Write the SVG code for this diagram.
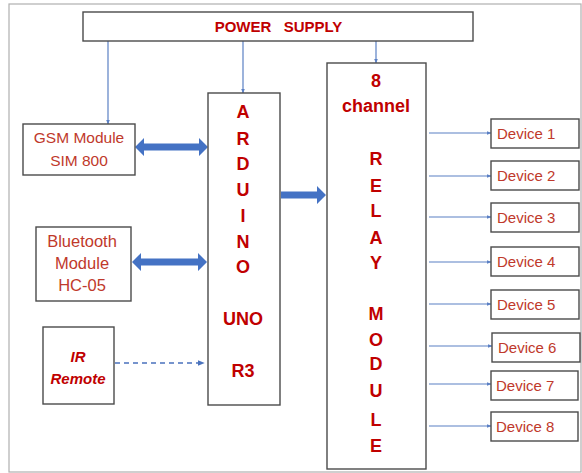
<svg xmlns="http://www.w3.org/2000/svg" width="582" height="473" viewBox="0 0 582 473">
<defs>
<style>
.box{fill:#fff;stroke:#4a4a4a;stroke-width:1.4}
.thin{stroke:#5b80c4;stroke-width:1.2;fill:none}
.thick{fill:#4472c4}
.t{font-family:"Liberation Sans",Arial,sans-serif;fill:#c0392b;text-anchor:middle}
.b{font-family:"Liberation Sans",Arial,sans-serif;font-weight:bold;fill:#c00000;text-anchor:middle;font-size:18px}
.dev{font-family:"Liberation Sans",Arial,sans-serif;fill:#c0392b;font-size:15px}
</style>
<marker id="ah" viewBox="0 0 10 10" refX="9" refY="5" markerWidth="5" markerHeight="5" orient="auto" markerUnits="userSpaceOnUse">
<path d="M0,1 L10,5 L0,9 z" fill="#5b80c4"/>
</marker>
<marker id="ah2" viewBox="0 0 10 10" refX="9" refY="5" markerWidth="7" markerHeight="7" orient="auto" markerUnits="userSpaceOnUse">
<path d="M0,1 L10,5 L0,9 z" fill="#4a72bd"/>
</marker>
</defs>
<rect x="0" y="0" width="582" height="473" fill="#fff"/>
<rect x="9" y="4" width="572" height="468" fill="none" stroke="#b0b0b0" stroke-width="1.2"/>

<g id="connectors">
<line class="thin" x1="108" y1="41" x2="108" y2="124" marker-end="url(#ah)"/>
<line class="thin" x1="243" y1="41" x2="243" y2="93" marker-end="url(#ah)"/>
<line class="thin" x1="376" y1="41" x2="376" y2="63" marker-end="url(#ah)"/>
<polygon class="thick" points="135,147 144,138 144,143.5 199,143.5 199,138 208,147 199,156 199,150.5 144,150.5 144,156"/>
<polygon class="thick" points="132,262 141,253 141,258.5 198,258.5 198,253 207,262 198,271 198,265.5 141,265.5 141,271"/>
<polygon class="thick" points="281,191.5 317,191.5 317,186 326,195 317,204 317,198.5 281,198.5"/>
<line x1="115" y1="363" x2="204" y2="363" stroke="#4a72bd" stroke-width="1.7" stroke-dasharray="5,4" marker-end="url(#ah2)"/>
<line class="thin" x1="429" y1="133" x2="491" y2="133" marker-end="url(#ah)"/>
<line class="thin" x1="429" y1="176" x2="491" y2="176" marker-end="url(#ah)"/>
<line class="thin" x1="429" y1="217" x2="491" y2="217" marker-end="url(#ah)"/>
<line class="thin" x1="429" y1="262" x2="491" y2="262" marker-end="url(#ah)"/>
<line class="thin" x1="429" y1="304" x2="491" y2="304" marker-end="url(#ah)"/>
<line class="thin" x1="429" y1="346" x2="492" y2="346" marker-end="url(#ah)"/>
<line class="thin" x1="429" y1="384" x2="491" y2="384" marker-end="url(#ah)"/>
<line class="thin" x1="429" y1="426" x2="491" y2="426" marker-end="url(#ah)"/>
</g>

<g id="power">
<rect class="box" x="83" y="12" width="390" height="29"/>
<text class="b" x="243" y="32" style="font-size:15px">POWER</text>
<text class="b" x="313" y="32" style="font-size:15px">SUPPLY</text>
</g>

<g id="gsm">
<rect class="box" x="23" y="124" width="112" height="51"/>
<text class="t" x="79" y="143" style="font-size:15.5px">GSM Module</text>
<text class="t" x="79" y="166" style="font-size:15.5px">SIM 800</text>
</g>

<g id="bluetooth">
<rect class="box" x="36" y="227" width="95" height="74"/>
<text class="t" x="82" y="247" style="font-size:16.5px">Bluetooth</text>
<text class="t" x="82" y="269" style="font-size:16.5px">Module</text>
<text class="t" x="82" y="291" style="font-size:16.5px">HC-05</text>
</g>

<g id="ir">
<rect class="box" x="43" y="327" width="71" height="77"/>
<text class="b" x="78" y="362" style="font-size:15px;font-style:italic">IR</text>
<text class="b" x="78" y="384" style="font-size:15px;font-style:italic">Remote</text>
</g>

<g id="arduino">
<rect class="box" x="208" y="93" width="72" height="312"/>
<text class="b" x="243" y="118">A</text>
<text class="b" x="243" y="145">R</text>
<text class="b" x="243" y="170">D</text>
<text class="b" x="243" y="196">U</text>
<text class="b" x="243" y="222">I</text>
<text class="b" x="243" y="248">N</text>
<text class="b" x="243" y="273">O</text>
<text class="b" x="243" y="325">UNO</text>
<text class="b" x="243" y="377">R3</text>
</g>

<g id="relay">
<rect class="box" x="327" y="63" width="99" height="406"/>
<text class="b" x="376" y="87">8</text>
<text class="b" x="376" y="112">channel</text>
<text class="b" x="376" y="165">R</text>
<text class="b" x="376" y="192">E</text>
<text class="b" x="376" y="217">L</text>
<text class="b" x="376" y="244">A</text>
<text class="b" x="376" y="269">Y</text>
<text class="b" x="376" y="320">M</text>
<text class="b" x="376" y="346">O</text>
<text class="b" x="376" y="370">D</text>
<text class="b" x="376" y="397">U</text>
<text class="b" x="376" y="426">L</text>
<text class="b" x="376" y="452">E</text>
</g>

<g id="device1"><rect class="box" x="491" y="119" width="88" height="29"/><text class="dev" x="497" y="139">Device 1</text></g>
<g id="device2"><rect class="box" x="491" y="161" width="88" height="29"/><text class="dev" x="497" y="181">Device 2</text></g>
<g id="device3"><rect class="box" x="491" y="203" width="88" height="29"/><text class="dev" x="497" y="223">Device 3</text></g>
<g id="device4"><rect class="box" x="491" y="247" width="88" height="29"/><text class="dev" x="497" y="267">Device 4</text></g>
<g id="device5"><rect class="box" x="491" y="290" width="88" height="29"/><text class="dev" x="497" y="310">Device 5</text></g>
<g id="device6"><rect class="box" x="492" y="333" width="88" height="29"/><text class="dev" x="498" y="353">Device 6</text></g>
<g id="device7"><rect class="box" x="491" y="371" width="87" height="29"/><text class="dev" x="496" y="391">Device 7</text></g>
<g id="device8"><rect class="box" x="491" y="412" width="87" height="29"/><text class="dev" x="496" y="432">Device 8</text></g>
</svg>
